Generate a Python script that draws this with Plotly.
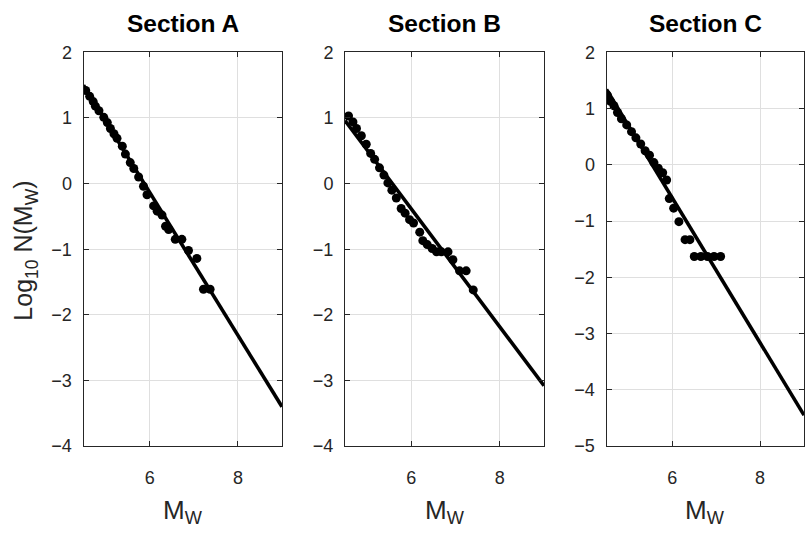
import plotly.graph_objects as go

# ---- data ----
titles = ["Section A", "Section B", "Section C"]

A_M = [4.55, 4.64, 4.72, 4.77, 4.85, 4.96, 5.04, 5.11, 5.19, 5.26, 5.38, 5.45, 5.56, 5.64, 5.75,
       5.86, 5.94, 6.09, 6.17, 6.28, 6.36, 6.43, 6.58, 6.73, 6.88, 7.07, 7.22, 7.37]
A_Y = [1.42, 1.33, 1.25, 1.18, 1.11, 1.01, 0.93, 0.84, 0.76, 0.69, 0.57, 0.45, 0.32, 0.23, 0.10,
       -0.04, -0.17, -0.34, -0.42, -0.48, -0.65, -0.70, -0.85, -0.85, -1.02, -1.14, -1.61, -1.61]

B_M = [4.58, 4.68, 4.76, 4.87, 4.98, 5.08, 5.17, 5.28, 5.38, 5.47, 5.56, 5.66, 5.77, 5.86, 5.96,
       6.05, 6.19, 6.26, 6.36, 6.47, 6.57, 6.68, 6.83, 6.94, 7.09, 7.24, 7.40]
B_Y = [1.03, 0.94, 0.84, 0.73, 0.60, 0.46, 0.37, 0.24, 0.13, 0.01, -0.10, -0.22, -0.38, -0.45, -0.55,
       -0.60, -0.74, -0.87, -0.93, -0.99, -1.04, -1.04, -1.04, -1.16, -1.33, -1.33, -1.62]

C_M = [4.52, 4.59, 4.67, 4.75, 4.84, 4.96, 5.07, 5.17, 5.28, 5.38, 5.48, 5.58, 5.68, 5.78, 5.87,
       5.93, 6.03, 6.15, 6.29, 6.40, 6.50, 6.65, 6.80, 6.95, 7.10]
C_Y = [1.24, 1.13, 1.05, 0.93, 0.82, 0.71, 0.59, 0.48, 0.37, 0.25, 0.17, 0.04, -0.06, -0.14, -0.27,
       -0.60, -0.77, -1.01, -1.33, -1.33, -1.63, -1.63, -1.63, -1.63, -1.63]

fit_M = [4.5, 9.0]
fit_A = [1.50, -3.40]
fit_B = [0.96, -3.08]
fit_C = [1.34, -4.45]

y_ranges = [[-4, 2], [-4, 2], [-5, 2]]
x_range = [4.5, 9.0]
x_ticks = [6, 8]

# ---- layout geometry (pixels in 805x535 window) ----
W, H = 805, 535
x_px = [(83.5, 282.0), (345.0, 544.0), (606.5, 804.0)]
y_top, y_bot = 44.0, 453.0

series = [(A_M, A_Y, fit_A), (B_M, B_Y, fit_B), (C_M, C_Y, fit_C)]

fig = go.Figure()
FONT = "Liberation Sans, Arial, sans-serif"
AX = "#262626"

for i, (m, y, fy) in enumerate(series):
    xa = "x" if i == 0 else f"x{i+1}"
    ya = "y" if i == 0 else f"y{i+1}"
    fig.add_trace(go.Scatter(x=fit_M, y=fy, mode="lines", xaxis=xa, yaxis=ya,
                             line=dict(color="black", width=3.6), showlegend=False,
                             cliponaxis=True))
    fig.add_trace(go.Scatter(x=m, y=y, mode="markers", xaxis=xa, yaxis=ya,
                             marker=dict(color="black", size=9, line=dict(width=0)),
                             showlegend=False))

layout = dict(
    width=W, height=H,
    margin=dict(l=0, r=0, t=0, b=0),
    paper_bgcolor="white", plot_bgcolor="white",
    font=dict(family=FONT, color=AX, size=18),
    annotations=[],
)

for i in range(3):
    suffix = "" if i == 0 else str(i + 1)
    x0, x1 = x_px[i]
    layout["xaxis" + suffix] = dict(
        domain=[x0 / W, x1 / W], range=x_range, tickvals=x_ticks,
        anchor="y" + suffix, showgrid=True, gridcolor="#dfdfdf", gridwidth=1,
        showline=True, linecolor=AX, linewidth=1, mirror="allticks",
        ticks="inside", ticklen=5, tickcolor=AX, zeroline=False,
        tickfont=dict(size=18, color=AX, family=FONT), ticklabelstandoff=15,
    )
    yr = y_ranges[i]
    layout["yaxis" + suffix] = dict(
        domain=[(H - y_bot) / H, (H - y_top) / H], range=yr,
        tickvals=list(range(yr[0], yr[1] + 1)),
        anchor="x" + suffix, showgrid=True, gridcolor="#dfdfdf", gridwidth=1,
        showline=True, linecolor=AX, linewidth=1, mirror="allticks",
        ticks="inside", ticklen=5, tickcolor=AX, zeroline=False,
        tickfont=dict(size=18, color=AX, family=FONT), ticklabelstandoff=7,
    )
    cx = (x0 + x1) / 2 / W
    layout["annotations"].append(dict(
        text="<b>" + titles[i] + "</b>", x=cx, y=(H - 14) / H, xref="paper", yref="paper",
        xanchor="center", yanchor="middle", showarrow=False,
        font=dict(size=24.5, color="black", family=FONT)))
    layout["annotations"].append(dict(
        text="M<sub>W</sub>", x=cx, y=(H - 521) / H, xref="paper", yref="paper",
        xanchor="center", yanchor="middle", showarrow=False,
        font=dict(size=26, color=AX, family=FONT)))

layout["annotations"].append(dict(
    text="Log<sub>10</sub> N(M<sub>W</sub>)", x=25 / W, y=(H - 250) / H,
    xref="paper", yref="paper", xanchor="center", yanchor="middle",
    textangle=-90, showarrow=False, font=dict(size=25, color=AX, family=FONT)))

fig.update_layout(**layout)
fig.write_html("out.html")
